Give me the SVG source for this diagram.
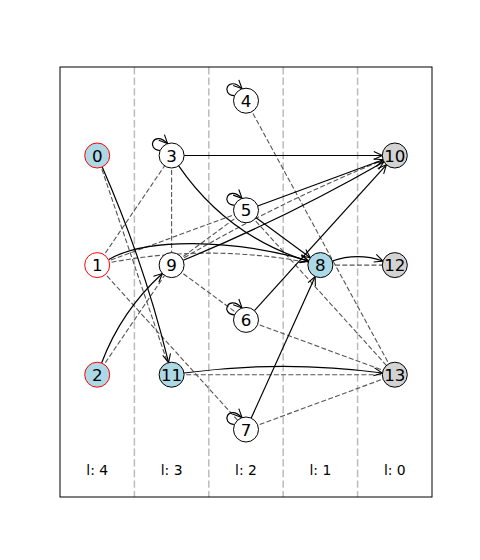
<svg xmlns="http://www.w3.org/2000/svg" width="480" height="560" viewBox="0 0 480 560">
<defs>
<marker id="ah" markerWidth="10" markerHeight="10" refX="9" refY="5" orient="auto" markerUnits="userSpaceOnUse" viewBox="0 0 10 10">
<path d="M0.5,1 L9,5 L0.5,9" fill="none" stroke="#000" stroke-width="1.1"/>
</marker>
</defs>
<style>
.grid{stroke:#bcbcbc;stroke-width:1.5;stroke-dasharray:7.4 3.2;fill:none}
.d{stroke:#555;stroke-width:1.1;stroke-dasharray:5 2.3;fill:none}
.s{stroke:#000;stroke-width:1.2;fill:none;marker-end:url(#ah)}
.n{stroke:#000;stroke-width:1}
.w{fill:#fff}.b{fill:#add8e6}.g{fill:#d3d3d3}.r{stroke:#f00}
.t{font-family:"DejaVu Sans",sans-serif;font-size:16.7px;text-anchor:middle;fill:#000}
.l{font-family:"DejaVu Sans",sans-serif;font-size:13.9px;text-anchor:middle;fill:#000}
</style>
<rect x="0" y="0" width="480" height="560" fill="#fff"/>
<g id="layers">
<line class="grid" x1="134.4" y1="67" x2="134.4" y2="497"/>
<line class="grid" x1="208.8" y1="67" x2="208.8" y2="497"/>
<line class="grid" x1="283.2" y1="67" x2="283.2" y2="497"/>
<line class="grid" x1="357.6" y1="67" x2="357.6" y2="497"/>
<text class="l" x="97.2" y="475">l: 4</text>
<text class="l" x="171.6" y="475">l: 3</text>
<text class="l" x="246" y="475">l: 2</text>
<text class="l" x="320.4" y="475">l: 1</text>
<text class="l" x="394.8" y="475">l: 0</text>
</g>
<g id="connectors">
<line class="d" x1="97.2" y1="155.5" x2="171.6" y2="374.7"/>
<line class="d" x1="97.2" y1="265.1" x2="171.6" y2="155.5"/>
<line class="d" x1="97.2" y1="265.1" x2="246" y2="210.3"/>
<line class="d" x1="97.2" y1="265.1" x2="246" y2="429.5"/>
<path class="d" d="M97.2,265.1 Q208.8,241.1 320.4,265.1"/>
<line class="d" x1="171.6" y1="155.5" x2="171.6" y2="265.1"/>
<line class="d" x1="97.2" y1="374.7" x2="171.6" y2="265.1"/>
<line class="d" x1="171.6" y1="265.1" x2="246" y2="319.9"/>
<line class="d" x1="171.6" y1="265.1" x2="246" y2="210.3"/>
<path class="d" d="M171.6,265.1 Q278.8,201.3 394.8,155.5"/>
<line class="d" x1="320.4" y1="265.1" x2="394.8" y2="265.1"/>
<line class="d" x1="171.6" y1="374.7" x2="394.8" y2="374.7"/>
<line class="d" x1="246" y1="100.7" x2="394.8" y2="374.7"/>
<line class="d" x1="246" y1="210.3" x2="394.8" y2="374.7"/>
<line class="d" x1="246" y1="319.9" x2="394.8" y2="374.7"/>
<line class="d" x1="246" y1="429.5" x2="394.8" y2="374.7"/>

<line class="s" x1="184.1" y1="155.5" x2="382.3" y2="155.5"/>
<line class="s" x1="257.7" y1="206.0" x2="383.1" y2="159.8"/>
<line class="s" x1="256.1" y1="217.7" x2="310.3" y2="257.7"/>
<line class="s" x1="254.4" y1="310.6" x2="386.4" y2="164.8"/>
<line class="s" x1="251.2" y1="418.1" x2="315.2" y2="276.5"/>
<path class="s" d="M183.2,260.3 Q286.7,217.5 384.0,161.7"/>
<path class="s" d="M102.2,167.0 Q143.9,261.9 168.6,362.6"/>
<path class="s" d="M101.6,363.0 Q121.2,310.9 162.4,273.5"/>
<path class="s" d="M108.8,259.5 C145,238 230,238 308.6,260.8"/>
<path class="s" d="M178.7,165.8 Q227,236.1 308.5,261.4"/>
<path class="s" d="M332.2,261.0 Q357.6,252.1 383.0,261.0"/>
<path class="s" d="M184.0,373.0 Q283.2,359.7 382.4,373.0"/>

<path class="s" d="M160.1,150.5 C145.6,149.5 153.6,129.5 167.6,143.5"/>
<path class="s" d="M234.5,95.7 C220,94.7 228,74.7 242,88.7"/>
<path class="s" d="M234.5,205.3 C220,204.3 228,184.3 242,198.3"/>
<path class="s" d="M234.5,314.9 C220,313.9 228,293.9 242,307.9"/>
<path class="s" d="M234.5,424.5 C220,423.5 228,403.5 242,417.5"/>
</g>
<g id="node-0"><circle class="n b r" cx="97.2" cy="155.5" r="12.5"/><text class="t" x="97.2" y="161.6">0</text></g>
<g id="node-1"><circle class="n w r" cx="97.2" cy="265.1" r="12.5"/><text class="t" x="97.2" y="271.2">1</text></g>
<g id="node-2"><circle class="n b r" cx="97.2" cy="374.7" r="12.5"/><text class="t" x="97.2" y="380.8">2</text></g>
<g id="node-3"><circle class="n w" cx="171.6" cy="155.5" r="12.5"/><text class="t" x="171.6" y="161.6">3</text></g>
<g id="node-9"><circle class="n w" cx="171.6" cy="265.1" r="12.5"/><text class="t" x="171.6" y="271.2">9</text></g>
<g id="node-11"><circle class="n b" cx="171.6" cy="374.7" r="12.5"/><text class="t" x="171.6" y="380.8">11</text></g>
<g id="node-4"><circle class="n w" cx="246" cy="100.7" r="12.5"/><text class="t" x="246" y="106.8">4</text></g>
<g id="node-5"><circle class="n w" cx="246" cy="210.3" r="12.5"/><text class="t" x="246" y="216.4">5</text></g>
<g id="node-6"><circle class="n w" cx="246" cy="319.9" r="12.5"/><text class="t" x="246" y="326.0">6</text></g>
<g id="node-7"><circle class="n w" cx="246" cy="429.5" r="12.5"/><text class="t" x="246" y="435.6">7</text></g>
<g id="node-8"><circle class="n b" cx="320.4" cy="265.1" r="12.5"/><text class="t" x="320.4" y="271.2">8</text></g>
<g id="node-10"><circle class="n g" cx="394.8" cy="155.5" r="12.5"/><text class="t" x="394.8" y="161.6">10</text></g>
<g id="node-12"><circle class="n g" cx="394.8" cy="265.1" r="12.5"/><text class="t" x="394.8" y="271.2">12</text></g>
<g id="node-13"><circle class="n g" cx="394.8" cy="374.7" r="12.5"/><text class="t" x="394.8" y="380.8">13</text></g>
<rect x="60" y="67" width="372" height="430" fill="none" stroke="#000" stroke-width="1"/>
</svg>
